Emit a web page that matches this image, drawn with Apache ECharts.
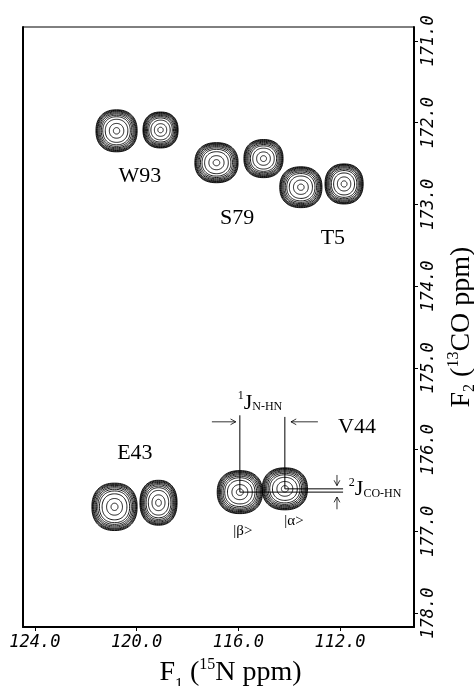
<!DOCTYPE html>
<html>
<head>
<meta charset="utf-8">
<script src="https://cdn.jsdelivr.net/npm/echarts@6/dist/echarts.min.js"></script>
<style>
html,body{margin:0;padding:0;background:#fff;}
#chart{width:474px;height:686px;}
</style>
</head>
<body>
<div id="chart"></div>
<script>
// ---- data ----
const residues = ['W93', 'W93', 'S79', 'S79', 'T5', 'T5', 'E43', 'E43', 'V44', 'V44'];
const spinStates = ['β', 'α', 'β', 'α', 'β', 'α', 'β', 'α', 'β', 'α'];
const peakF1 = [120.79, 119.06, 116.86, 115.01, 113.54, 111.84, 120.87, 119.14, 115.94, 114.17];
const peakF2 = [172.10, 172.09, 172.49, 172.44, 172.79, 172.75, 176.70, 176.65, 176.52, 176.48];
const peakWidthF1 = [0.81, 0.69, 0.85, 0.77, 0.83, 0.75, 0.89, 0.73, 0.89, 0.89];
const peakWidthF2 = [0.257, 0.220, 0.245, 0.233, 0.250, 0.245, 0.290, 0.275, 0.263, 0.257];
const contourLevels = [0.02, 0.035, 0.06, 0.09, 0.14, 0.2, 0.28, 0.38, 0.55, 0.8, 0.96];
const f1Ticks = [124, 120, 116, 112];
const f2Ticks = [171, 172, 173, 174, 175, 176, 177, 178];

const chart = echarts.init(document.getElementById('chart'), null, {renderer: 'canvas'});

const peakData = peakF1.map((x, i) => [x, peakF2[i], peakWidthF1[i], peakWidthF2[i]]);
const iB = 8, iA = 9; // V44 doublet components

function renderPeak(params, api) {
  const c = api.coord([api.value(0), api.value(1)]);
  const s = api.size([api.value(2), api.value(3)]);
  const rx = Math.abs(s[0]), ry = Math.abs(s[1]);
  const norm = Math.sqrt(1 - Math.sqrt(contourLevels[0]));
  const children = contourLevels.map(lv => {
    const f = Math.sqrt(1 - Math.sqrt(lv)) / norm;
    const n = 2.0 + 0.3 * f;
    const pts = [];
    for (let i = 0; i < 72; i++) {
      const t = i / 72 * 2 * Math.PI;
      const ct = Math.cos(t), st = Math.sin(t);
      pts.push([
        c[0] + rx * f * Math.sign(ct) * Math.pow(Math.abs(ct), 2 / n),
        c[1] + ry * f * Math.sign(st) * Math.pow(Math.abs(st), 2 / n)
      ]);
    }
    return {type: 'polygon', shape: {points: pts}, style: {fill: 'none', stroke: '#000', lineWidth: 0.9}};
  });
  return {type: 'group', children};
}

function renderSegment(params, api) {
  const p1 = api.coord([api.value(0), api.value(1)]);
  const p2 = api.coord([api.value(2), api.value(3)]);
  return {type: 'line', shape: {x1: p1[0], y1: p1[1], x2: p2[0], y2: p2[1]},
    style: {stroke: '#000', lineWidth: 1}};
}

function renderArrow(params, api) {
  const p1 = api.coord([api.value(0), api.value(1)]);
  const p2 = api.coord([api.value(2), api.value(3)]);
  const a = Math.atan2(p2[1] - p1[1], p2[0] - p1[0]);
  const L = 6, w = 0.5;
  const h1 = [p2[0] - L * Math.cos(a - w), p2[1] - L * Math.sin(a - w)];
  const h2 = [p2[0] - L * Math.cos(a + w), p2[1] - L * Math.sin(a + w)];
  return {type: 'group', children: [
    {type: 'line', shape: {x1: p1[0], y1: p1[1], x2: p2[0], y2: p2[1]}, style: {stroke: '#000', lineWidth: 0.8}},
    {type: 'polyline', shape: {points: [h1, p2, h2]}, style: {stroke: '#000', lineWidth: 0.8, fill: 'none'}}
  ]};
}

const guideData = [
  [peakF1[iB], peakF2[iB], peakF1[iB], 175.58],
  [peakF1[iA], peakF2[iA], peakF1[iA], 175.60],
  [peakF1[iB], peakF2[iB], 111.88, peakF2[iB]],
  [peakF1[iA], peakF2[iA], 111.88, peakF2[iA]]
];
const arrowData = [
  [117.04, 175.66, 116.10, 175.66],
  [112.87, 175.66, 113.93, 175.66],
  [112.12, 176.31, 112.12, 176.44],
  [112.12, 176.73, 112.12, 176.58]
];

const serif = 'Liberation Serif';
const textData = [
  {value: [119.87, 172.66], text: 'W93', style: 'res'},
  {value: [116.05, 173.17], text: 'S79', style: 'res'},
  {value: [112.28, 173.41], text: 'T5', style: 'res'},
  {value: [120.07, 176.04], text: 'E43', style: 'res'},
  {value: [111.33, 175.72], text: 'V44', style: 'res'},
  {value: [115.82, 177.00], text: '|' + spinStates[iB] + '>', style: 'ket'},
  {value: [113.81, 176.87], text: '|' + spinStates[iA] + '>', style: 'ket'},
  {value: [115.15, 175.43], text: '{s|1}{j|J}{b|N-HN}', style: 'rich'},
  {value: [110.62, 176.49], text: '{s|2}{j|J}{b|CO-HN}', style: 'rich'}
];

const labelRich = {
  res: {fontFamily: serif, fontSize: 22, color: '#000'},
  ket: {fontFamily: serif, fontSize: 15, color: '#000'},
  s: {fontFamily: serif, fontSize: 12, lineHeight: 12, verticalAlign: 'top', color: '#000'},
  j: {fontFamily: serif, fontSize: 22, lineHeight: 26, color: '#000'},
  b: {fontFamily: serif, fontSize: 12, lineHeight: 12, verticalAlign: 'bottom', color: '#000', padding: [0, 0, 3, 0]}
};

const tickFont = {fontFamily: 'DejaVu Sans Mono', fontStyle: 'italic', fontSize: 17, color: '#000'};

const option = {
  animation: false,
  backgroundColor: '#fff',
  grid: {left: 23, right: 60, top: 27, bottom: 59, show: true, borderColor: '#000', borderWidth: 1,
    containLabel: false, outerBoundsMode: 'none'},
  xAxis: {
    type: 'value', min: 109.09, max: 124.47, inverse: true, position: 'bottom',
    splitLine: {show: false},
    axisLine: {show: true, onZero: false, lineStyle: {color: '#000', width: 2}},
    axisTick: {show: true, length: 4, customValues: f1Ticks, lineStyle: {color: '#000', width: 1}},
    axisLabel: Object.assign({customValues: f1Ticks, margin: 7, formatter: v => Number(v).toFixed(1)}, tickFont),
    name: '{f|F}{sb|1}{t| (}{sp|15}{t|N ppm)}',
    nameLocation: 'middle', nameGap: 30,
    nameTextStyle: {
      padding: [0, 0, 0, 24],
      rich: {
        f: {fontFamily: serif, fontSize: 28, lineHeight: 32, color: '#000'},
        t: {fontFamily: serif, fontSize: 28, lineHeight: 32, color: '#000'},
        sb: {fontFamily: serif, fontSize: 16, lineHeight: 16, verticalAlign: 'bottom', color: '#000', padding: [0, 0, -4, 0]},
        sp: {fontFamily: serif, fontSize: 16, lineHeight: 16, verticalAlign: 'top', color: '#000'}
      }
    }
  },
  yAxis: [{
    type: 'value', min: 170.83, max: 178.17, inverse: true, position: 'right',
    splitLine: {show: false},
    axisLine: {show: true, onZero: false, lineStyle: {color: '#000', width: 2}},
    axisTick: {show: true, length: 4, customValues: f2Ticks, lineStyle: {color: '#000', width: 1}},
    axisLabel: Object.assign({customValues: f2Ticks, rotate: 90, margin: 6, formatter: v => Number(v).toFixed(1)}, tickFont),
    name: '{f|F}{sb|2}{t| (}{sp|13}{t|CO ppm)}',
    nameLocation: 'middle', nameRotate: 90, nameGap: 32,
    nameTextStyle: {
      rich: {
        f: {fontFamily: serif, fontSize: 28, lineHeight: 32, color: '#000'},
        t: {fontFamily: serif, fontSize: 28, lineHeight: 32, color: '#000'},
        sb: {fontFamily: serif, fontSize: 16, lineHeight: 16, verticalAlign: 'bottom', color: '#000'},
        sp: {fontFamily: serif, fontSize: 16, lineHeight: 16, verticalAlign: 'top', color: '#000'}
      }
    }
  }, {
    type: 'value', min: 170.83, max: 178.17, inverse: true, position: 'left',
    splitLine: {show: false}, axisTick: {show: false}, axisLabel: {show: false},
    axisLine: {show: true, onZero: false, lineStyle: {color: '#000', width: 2}}
  }],
  series: [
    {type: 'custom', name: 'peaks', renderItem: renderPeak, data: peakData, encode: {x: 0, y: 1}, silent: true, clip: true},
    {type: 'custom', name: 'guides', renderItem: renderSegment, data: guideData, encode: {x: [0, 2], y: [1, 3]}, silent: true},
    {type: 'custom', name: 'arrows', renderItem: renderArrow, data: arrowData, encode: {x: [0, 2], y: [1, 3]}, silent: true},
    {
      type: 'scatter', name: 'labels', silent: true, symbolSize: 1,
      itemStyle: {color: 'rgba(0,0,0,0)', opacity: 1},
      data: textData.map(d => ({value: d.value, text: d.text, kind: d.style})),
      labelLayout: {hideOverlap: false},
      label: {
        show: true, position: 'inside', color: '#000', opacity: 1,
        formatter: p => p.data.kind === 'rich' ? p.data.text : '{' + p.data.kind + '|' + p.data.text + '}',
        rich: labelRich
      }
    }
  ]
};
chart.setOption(option);
</script>
</body>
</html>
